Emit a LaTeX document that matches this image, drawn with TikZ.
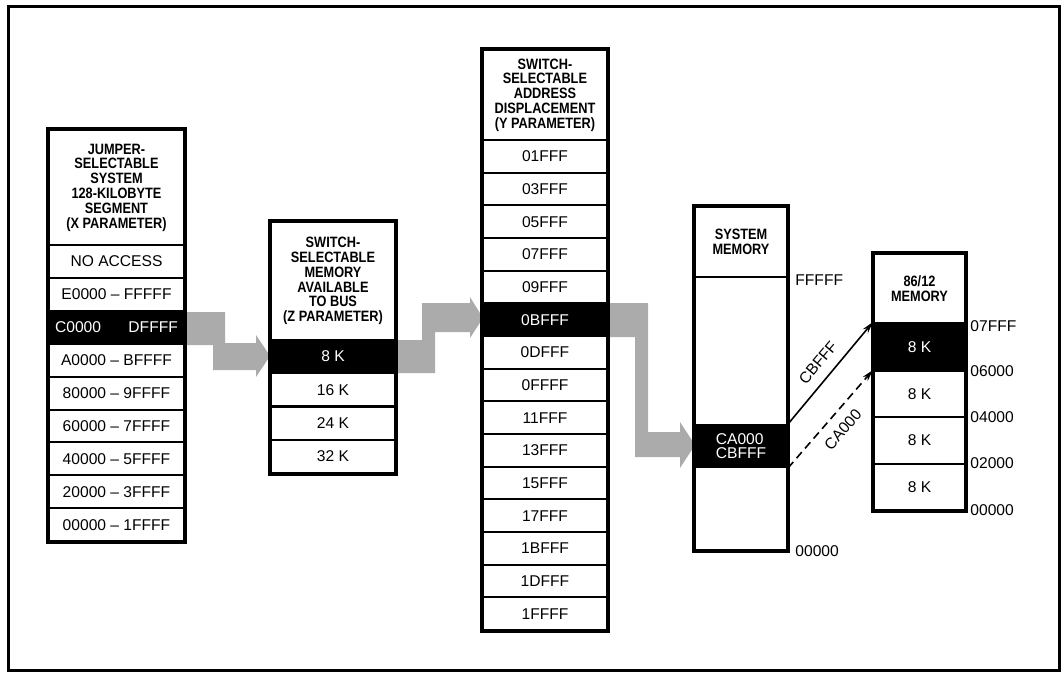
\documentclass[tikz,border=0pt]{standalone}
\usepackage{fontspec}
\setmainfont{Liberation Sans}
\newfontfamily\hdrfont[FakeStretch=0.85]{Liberation Sans}
\usetikzlibrary{arrows.meta}
\begin{document}
\begin{tikzpicture}[x=0.5pt,y=-0.5pt,
  memcell/.style={draw, line width=1pt, inner sep=0pt, font=\fontsize{7.8}{8}\selectfont},
  dark/.style={fill=black, text=white},
  hdr/.style={draw, line width=1pt, inner sep=0pt, align=center, font=\hdrfont\bfseries\fontsize{7.5}{7.4}\selectfont},
  side/.style={anchor=west, inner sep=0pt, font=\fontsize{7.8}{8}\selectfont},
  band/.style={fill=black!33},
  colframe/.style={draw, line width=1.6pt},
  ptr/.style={line width=0.8pt, -{Stealth[length=6pt,width=3.2pt]}},
  lab/.style={font=\fontsize{7.8}{8}\selectfont, inner sep=5pt},
  memx/.style={memcell, minimum width=67.5pt, minimum height=16.45pt},
  memz/.style={memcell, minimum width=62pt, minimum height=16.625pt},
  memy/.style={memcell, minimum width=62pt, minimum height=16.333pt},
  memsys/.style={memcell, minimum width=46pt},
  memloc/.style={memcell, minimum width=45.5pt}
]
\useasboundingbox (0,0) rectangle (1063,673);
\draw[line width=1.5pt] (8,7) rectangle (1059,670);

% gray stepped arrows
\fill[band] (184,312) -- (225,312) -- (225,343) -- (256,343) -- (256,335) -- (270,356)
  -- (256,377) -- (256,370) -- (213,370) -- (213,345) -- (184,345) -- cycle;
\fill[band] (395,373) -- (435,373) -- (435,332) -- (470,332) -- (470,338) -- (483,318)
  -- (470,297) -- (470,303) -- (422,303) -- (422,340) -- (395,340) -- cycle;
\fill[band] (607,303) -- (648,303) -- (648,432) -- (680,432) -- (680,422) -- (695,445)
  -- (680,468) -- (680,457) -- (635,457) -- (635,337) -- (607,337) -- cycle;

% X column
\node[hdr, minimum width=67.5pt, minimum height=57.5pt] (xh) at (116.5,187.5)
  {JUMPER-\\SELECTABLE\\SYSTEM\\128-KILOBYTE\\SEGMENT\\(X PARAMETER)};
\node[memx] (x0) at (116.5,261.45) {NO ACCESS};
\node[memx] (x1) at (116.5,294.35) {E0000 -- FFFFF};
\node[memx,dark] (x2) at (116.5,327.25) {C0000 \hspace{1.2em} DFFFF};
\node[memx] (x3) at (116.5,360.15) {A0000 -- BFFFF};
\node[memx] (x4) at (116.5,393.05) {80000 -- 9FFFF};
\node[memx] (x5) at (116.5,425.95) {60000 -- 7FFFF};
\node[memx] (x6) at (116.5,458.85) {40000 -- 5FFFF};
\node[memx] (x7) at (116.5,491.75) {20000 -- 3FFFF};
\node[memx] (x8) at (116.5,524.65) {00000 -- 1FFFF};
\draw[colframe] (xh.north west) rectangle (x8.south east);

% Z column
\node[hdr, minimum width=62pt, minimum height=59pt] (zh) at (333,281)
  {SWITCH-\\SELECTABLE\\MEMORY\\AVAILABLE\\TO BUS\\(Z PARAMETER)};
\node[memz,dark] (z0) at (333,356.6) {8 K};
\node[memz] (z1) at (333,389.9) {16 K};
\node[memz] (z2) at (333,423.1) {24 K};
\node[memz] (z3) at (333,456.4) {32 K};
\draw[colframe] (zh.north west) rectangle (z3.south east);

% Y column
\node[hdr, minimum width=62pt, minimum height=45pt] (yh) at (545,95)
  {SWITCH-\\SELECTABLE\\ADDRESS\\DISPLACEMENT\\(Y PARAMETER)};
\node[memy] (y0) at (545,156.33) {01FFF};
\node[memy] (y1) at (545,189.0) {03FFF};
\node[memy] (y2) at (545,221.67) {05FFF};
\node[memy] (y3) at (545,254.33) {07FFF};
\node[memy] (y4) at (545,287.0) {09FFF};
\node[memy,dark] (y5) at (545,319.67) {0BFFF};
\node[memy] (y6) at (545,352.33) {0DFFF};
\node[memy] (y7) at (545,385.0) {0FFFF};
\node[memy] (y8) at (545,417.67) {11FFF};
\node[memy] (y9) at (545,450.33) {13FFF};
\node[memy] (y10) at (545,483.0) {15FFF};
\node[memy] (y11) at (545,515.67) {17FFF};
\node[memy] (y12) at (545,548.33) {1BFFF};
\node[memy] (y13) at (545,581.0) {1DFFF};
\node[memy] (y14) at (545,613.67) {1FFFF};
\draw[colframe] (yh.north west) rectangle (y14.south east);

% System memory
\node[hdr, minimum width=46pt, minimum height=35pt] (sh) at (741,242) {SYSTEM\\MEMORY};
\node[memsys, minimum height=74pt] (s1) at (741,351) {};
\node[memsys, dark, minimum height=21pt, align=left, font=\fontsize{7.8}{7.2}\selectfont] (s2) at (741,446) {CA000\\CBFFF};
\node[memsys, minimum height=41.5pt] (s3) at (741,508.5) {};
\draw[colframe] (sh.north west) rectangle (s3.south east);
\node[side] (sf) at (795,280) {FFFFF};
\node[side] (s0) at (795,551) {00000};

% 86/12 memory
\node[hdr, minimum width=45.5pt, minimum height=34.5pt] (mh) at (919.5,288.5) {86/12\\MEMORY};
\node[memloc, dark, minimum height=24pt] (m1) at (919.5,347) {8 K};
\node[memloc, minimum height=23pt] (m2) at (919.5,394) {8 K};
\node[memloc, minimum height=23.5pt] (m3) at (919.5,440.5) {8 K};
\node[memloc, minimum height=23pt] (m4) at (919.5,487) {8 K};
\draw[colframe] (mh.north west) rectangle (m4.south east);
\node[side] (ma) at (970,326) {07FFF};
\node[side] (mb) at (970,371) {06000};
\node[side] (mc) at (970,417) {04000};
\node[side] (md) at (970,463) {02000};
\node[side] (me) at (970,510) {00000};

% mapping arrows
\draw[ptr] (s2.north east) -- node[lab, above, sloped] {CBFFF} (m1.north west);
\draw[ptr, dash pattern=on 4pt off 2.5pt] (s2.south east) -- node[lab, below, sloped] {CA000} (m2.north west);
\end{tikzpicture}
\end{document}
